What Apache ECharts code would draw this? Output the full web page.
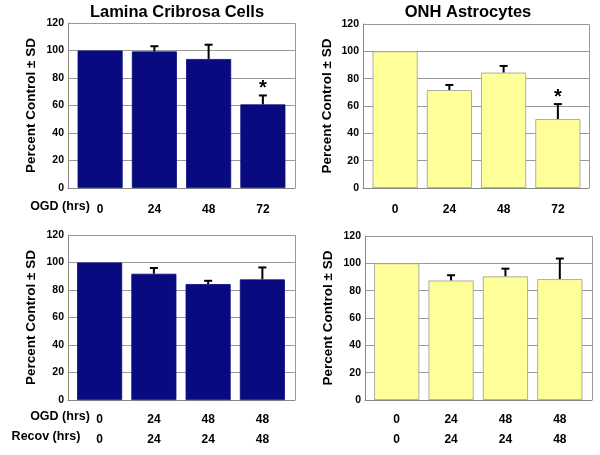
<!DOCTYPE html>
<html><head><meta charset="utf-8">
<script src="https://cdn.jsdelivr.net/npm/echarts@6/dist/echarts.min.js"></script>
<style>html,body{margin:0;padding:0;background:#fff}#c{width:600px;height:455px}</style>
</head><body><div id="c"></div>
<script>
// ---- data ----
const topCategories = ['0', '24', '48', '72'];
const bottomOGD = ['0', '24', '48', '48'];
const bottomRecov = ['0', '24', '24', '48'];
const yTicks = [0, 20, 40, 60, 80, 100, 120];

const lcOGD = [100, 99.3, 93.8, 60.8];
const lcOGDsd = [0, 3.8, 10.4, 6.5];
const lcOGDsig = [false, false, false, true];

const onhOGD = [100, 71.6, 84.4, 50.4];
const onhOGDsd = [0, 3.8, 4.9, 11.0];
const onhOGDsig = [false, false, false, true];

const lcRecov = [100, 91.8, 84.3, 87.7];
const lcRecovSd = [0, 4.2, 2.4, 8.7];

const onhRecov = [100, 87.4, 90.4, 88.4];
const onhRecovSd = [0, 3.9, 5.7, 15.1];

const titles = ['Lamina Cribrosa Cells', 'ONH Astrocytes'];
const yName = 'Percent Control \u00b1 SD';
const navy = '#0a0a80';
const yellow = '#ffff99';

// ---- chart ----
const FONT = '"Liberation Sans", Arial, sans-serif';
// frame grids (axes, gridlines)
const frames = [
  {left: 68, top: 23, width: 227, height: 165},
  {left: 363, top: 24, width: 226, height: 164},
  {left: 68, top: 235, width: 227, height: 165},
  {left: 365, top: 236, width: 227, height: 164}
];
// bar grids (inset horizontally, same vertical extent)
const barGrids = [
  {left: 73, top: 23, width: 217, height: 165},
  {left: 368, top: 24, width: 217, height: 164},
  {left: 72.5, top: 235, width: 217, height: 165},
  {left: 369.5, top: 236, width: 217.5, height: 164}
];
const xCats = [
  topCategories, topCategories,
  bottomOGD.map((v, i) => v + '\n' + bottomRecov[i]),
  bottomOGD.map((v, i) => v + '\n' + bottomRecov[i])
];
const panels = [
  {vals: lcOGD, sd: lcOGDsd, sig: lcOGDsig, color: navy},
  {vals: onhOGD, sd: onhOGDsd, sig: onhOGDsig, color: yellow},
  {vals: lcRecov, sd: lcRecovSd, sig: [false,false,false,false], color: navy},
  {vals: onhRecov, sd: onhRecovSd, sig: [false,false,false,false], color: yellow}
];

const grid = frames.concat(barGrids);
const xAxis = [];
const yAxis = [];
// frame axes 0..3
frames.forEach((g, i) => {
  xAxis.push({type: 'category', gridIndex: i, data: xCats[i],
    axisLine: {lineStyle: {color: '#888', width: 1}},
    axisTick: {show: false}, axisLabel: {show: false}});
  yAxis.push({type: 'value', gridIndex: i, min: 0, max: 120, interval: 20,
    name: yName, nameLocation: 'middle', nameGap: i === 1 ? 29 : 30, nameRotate: 90,
    nameTextStyle: {fontFamily: FONT, fontWeight: 'bold', fontSize: 13.5, color: '#000'},
    axisLine: {show: true, lineStyle: {color: '#888'}},
    axisTick: {show: false},
    axisLabel: {color: '#000', fontFamily: FONT, fontWeight: 'bold', fontSize: 10.5, margin: 4,
      formatter: v => yTicks.includes(v) ? String(v) : ''},
    splitLine: {show: true, lineStyle: {color: '#999', width: 1}}});
});
// bar axes 4..7
barGrids.forEach((g, i) => {
  xAxis.push({type: 'category', gridIndex: 4 + i, data: xCats[i],
    axisLine: {show: false}, axisTick: {show: false},
    axisLabel: {color: '#000', fontFamily: FONT, fontWeight: 'bold', fontSize: 12,
      margin: i < 2 ? 12 : 10, lineHeight: 20}});
  yAxis.push({type: 'value', gridIndex: 4 + i, min: 0, max: 120, interval: 20,
    show: false, splitLine: {show: false}});
});

const series = [];
panels.forEach((p, i) => {
  const ax = 4 + i;
  series.push({
    type: 'bar', xAxisIndex: ax, yAxisIndex: ax, data: p.vals,
    barCategoryGap: '17%',
    itemStyle: {color: p.color, borderColor: p.color === yellow ? '#999' : p.color, borderWidth: 0.8},
    animation: false
  });
  series.push({
    type: 'custom', xAxisIndex: ax, yAxisIndex: ax, animation: false,
    data: p.vals.map((v, k) => [k, v, v + p.sd[k], p.sig[k] ? 1 : 0]),
    renderItem: (params, api) => {
      const x = api.value(0);
      const base = api.coord([x, api.value(1)]);
      const top = api.coord([x, api.value(2)]);
      const children = [];
      if (api.value(2) > api.value(1)) {
        children.push({type: 'line', shape: {x1: base[0], y1: base[1], x2: top[0], y2: top[1]},
          style: {stroke: '#000', lineWidth: 2}});
        children.push({type: 'line', shape: {x1: top[0] - 4, y1: top[1], x2: top[0] + 4, y2: top[1]},
          style: {stroke: '#000', lineWidth: 2}});
      }
      if (api.value(3)) {
        children.push({type: 'text', x: top[0], y: top[1] - 7,
          style: {text: '*', fontSize: 20, fontWeight: 'bold', fontFamily: FONT, fill: '#000',
            align: 'center', verticalAlign: 'middle'}});
      }
      return {type: 'group', children};
    }
  });
});

const graphic = [
  {type: 'text', style: {text: titles[0], x: 177, y: 12, fontSize: 16.5, fontWeight: 'bold', fontFamily: FONT, fill: '#000', align: 'center', verticalAlign: 'middle'}},
  {type: 'text', style: {text: titles[1], x: 468, y: 12, fontSize: 16.5, fontWeight: 'bold', fontFamily: FONT, fill: '#000', align: 'center', verticalAlign: 'middle'}},
  {type: 'text', style: {text: 'OGD (hrs)', x: 60, y: 207, fontSize: 12.5, fontWeight: 'bold', fontFamily: FONT, fill: '#000', align: 'center', verticalAlign: 'middle'}},
  {type: 'text', style: {text: 'OGD (hrs)', x: 60, y: 417, fontSize: 12.5, fontWeight: 'bold', fontFamily: FONT, fill: '#000', align: 'center', verticalAlign: 'middle'}},
  {type: 'text', style: {text: 'Recov (hrs)', x: 46, y: 437, fontSize: 12.5, fontWeight: 'bold', fontFamily: FONT, fill: '#000', align: 'center', verticalAlign: 'middle'}}
];
// plot-area borders (top & right)
frames.forEach(g => {
  graphic.push({type: 'polyline', silent: true, z: 0,
    shape: {points: [[g.left, g.top + 0.5], [g.left + g.width + 0.5, g.top + 0.5], [g.left + g.width + 0.5, g.top + g.height]]},
    style: {stroke: '#999', lineWidth: 1, fill: null}});
});

const chart = echarts.init(document.getElementById('c'), null, {renderer: 'canvas'});
chart.setOption({
  backgroundColor: '#fff', animation: false,
  grid, xAxis, yAxis, series, graphic
});
</script></body></html>
